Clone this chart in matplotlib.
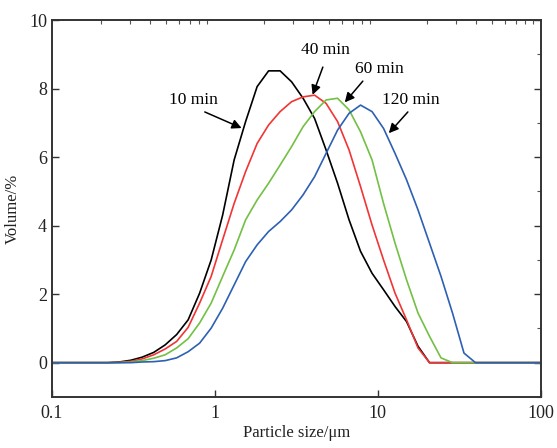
import numpy as np
import matplotlib.pyplot as plt
from matplotlib.ticker import LogLocator, MultipleLocator, FixedLocator

# particle size classes (um) and volume fractions (%)
size = [0.1, 0.220, 0.259, 0.305, 0.358, 0.422, 0.496, 0.583, 0.686, 0.807, 0.950,
        1.117, 1.314, 1.545, 1.818, 2.138, 2.515, 2.958, 3.479, 4.093, 4.815,
        5.662, 6.661, 7.834, 9.216, 10.84, 12.75, 15.0, 17.64, 20.75, 24.41,
        28.71, 33.77, 39.72, 100]

vol_10 = [0, 0, 0.02, 0.07, 0.16, 0.30, 0.52, 0.82, 1.25, 2.03, 3.0,
          4.31, 5.92, 7.04, 8.06, 8.52, 8.52, 8.2, 7.72, 7.13, 6.21,
          5.24, 4.17, 3.25, 2.61, 2.13, 1.64, 1.2, 0.48, 0, 0,
          0, 0, 0, 0]
vol_40 = [0, 0, 0.01, 0.04, 0.11, 0.23, 0.40, 0.62, 1.03, 1.74, 2.52,
          3.59, 4.65, 5.58, 6.40, 6.94, 7.33, 7.62, 7.76, 7.81, 7.57,
          7.04, 6.21, 5.14, 4.02, 3.0, 2.03, 1.25, 0.43, 0, 0,
          0, 0, 0, 0]
vol_60 = [0, 0, 0, 0.02, 0.06, 0.13, 0.23, 0.43, 0.70, 1.16, 1.74,
          2.52, 3.29, 4.17, 4.75, 5.24, 5.77, 6.31, 6.89, 7.33, 7.67,
          7.72, 7.38, 6.74, 5.92, 4.65, 3.49, 2.42, 1.45, 0.77, 0.14,
          0, 0, 0, 0]
vol_120 = [0, 0, 0, 0, 0.02, 0.03, 0.06, 0.14, 0.32, 0.57, 1.01,
           1.59, 2.27, 2.95, 3.44, 3.83, 4.12, 4.46, 4.90, 5.43, 6.11,
           6.79, 7.28, 7.52, 7.33, 6.84, 6.11, 5.34, 4.46, 3.49, 2.52,
           1.45, 0.28, 0, 0]

series = [('10 min', vol_10, '#000000'),
          ('40 min', vol_40, '#f23434'),
          ('60 min', vol_60, '#72c044'),
          ('120 min', vol_120, '#2d60b4')]

# label text position, arrow tail, arrow tip (data coords)
labels = [('10 min', (0.743, 7.67), (0.868, 7.32), (1.46, 6.85)),
          ('40 min', (4.80, 9.13), (4.60, 8.63), (3.98, 7.82)),
          ('60 min', (10.28, 8.57), (8.09, 8.22), (6.27, 7.60)),
          ('120 min', (15.94, 7.67), (15.28, 7.32), (11.68, 6.70))]

plt.rcParams['font.family'] = ['Liberation Serif', 'DejaVu Serif']

fig = plt.figure(figsize=(5.57, 4.48), dpi=100)
ax = fig.add_axes([0.093, 0.114, 0.878, 0.841])

for name, vals, col in series:
    ax.plot(size, vals, color=col, linewidth=1.2)

for text, tpos, tail, tip in labels:
    ax.text(tpos[0], tpos[1], text, fontsize=12.5, ha='center', va='center')
    ax.annotate('', xy=tip, xytext=tail,
                arrowprops=dict(arrowstyle='-|>', color='black', lw=1.1,
                                mutation_scale=14, shrinkA=0, shrinkB=0))

ax.set_xscale('log')
ax.set_xlim(0.1, 100)
ax.set_ylim(-1, 10)
ax.xaxis.set_major_locator(FixedLocator([0.1, 1, 10, 100]))
ax.set_xticklabels(['0.1', '1', '10', '100'])
ax.xaxis.set_minor_locator(LogLocator(base=10, subs=np.arange(2, 10)))
ax.yaxis.set_major_locator(FixedLocator([0, 2, 4, 6, 8, 10]))
ax.yaxis.set_minor_locator(MultipleLocator(1))

ax.tick_params(which='major', direction='in', length=5, width=1, labelsize=13,
               top=False, right=True, colors='#333333', labelcolor='#222222')
ax.tick_params(which='minor', direction='in', length=3, width=0.8,
               bottom=False, left=False, top=True, right=True, colors='#555555')
ax.tick_params(axis='x', pad=6)

for s in ax.spines.values():
    s.set_linewidth(1.4)
    s.set_color('#333333')

ax.set_xlabel('Particle size/\u03bcm', fontsize=12, color='#222222', labelpad=2)
ax.set_ylabel('Volume/%', fontsize=12, color='#222222', labelpad=6)

fig.savefig('out.png', dpi=100, facecolor='white')
